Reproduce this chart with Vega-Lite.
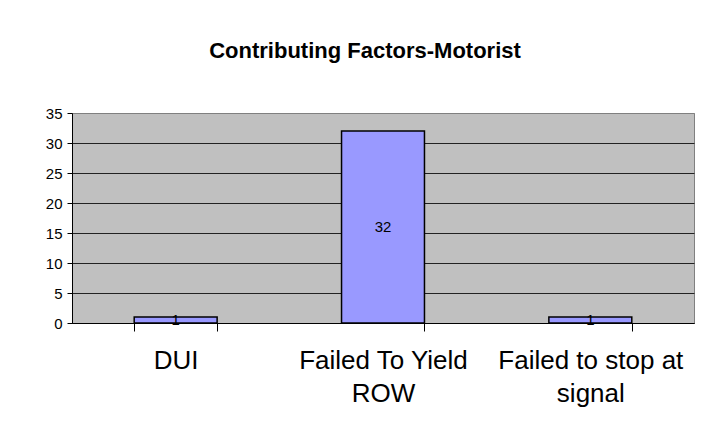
{
  "$schema": "https://vega.github.io/schema/vega-lite/v6.json",
  "width": 622,
  "height": 210,
  "autosize": {"type": "none"},
  "padding": {"left": 72, "top": 113, "right": 22, "bottom": 118},
  "background": "white",
  "title": {
    "text": "Contributing Factors-Motorist",
    "font": "Liberation Sans",
    "fontSize": 22,
    "fontWeight": "bold",
    "color": "black",
    "anchor": "middle",
    "dx": -18,
    "offset": 43
  },
  "data": {
    "values": [
      {"factor": "DUI", "count": 1},
      {"factor": "Failed To Yield ROW", "count": 32},
      {"factor": "Failed to stop at signal", "count": 1}
    ]
  },
  "encoding": {
    "x": {
      "field": "factor",
      "type": "nominal",
      "sort": null,
      "title": null,
      "scale": {"paddingInner": 0.6, "paddingOuter": 0.3},
      "axis": {
        "labelAngle": 0,
        "labelLimit": 0,
        "labelFont": "Liberation Sans",
        "labelFontSize": 26,
        "labelColor": "black",
        "labelLineHeight": 33,
        "labelPadding": 16,
        "labelBaseline": "top",
        "tickBand": "extent",
        "tickSize": 8,
        "tickColor": "black",
        "domainColor": "black",
        "labelExpr": "datum.value == 'Failed To Yield ROW' ? ['Failed To Yield', 'ROW'] : datum.value == 'Failed to stop at signal' ? ['Failed to stop at', 'signal'] : datum.value"
      }
    }
  },
  "layer": [
    {
      "mark": {"type": "bar", "fill": "#9999FF", "stroke": "black", "strokeWidth": 1.5},
      "encoding": {
        "y": {
          "field": "count",
          "type": "quantitative",
          "title": null,
          "scale": {"domain": [0, 35], "nice": false},
          "axis": {
            "values": [0, 5, 10, 15, 20, 25, 30, 35],
            "labelOverlap": false,
            "labelFont": "Liberation Sans",
            "labelFontSize": 15,
            "labelColor": "black",
            "labelPadding": 5,
            "tickSize": 5,
            "tickColor": "black",
            "domainColor": "black",
            "grid": true,
            "gridColor": {"condition": {"test": "datum.value == 35", "value": "#808080"}, "value": "#222222"},
            "gridOpacity": 1
          }
        }
      }
    },
    {
      "transform": [{"calculate": "datum.count / 2", "as": "labelPos"}],
      "mark": {"type": "text", "font": "Liberation Sans", "fontSize": 15, "color": "black", "baseline": "middle"},
      "encoding": {
        "y": {
          "field": "labelPos",
          "type": "quantitative",
          "title": null,
          "axis": {
            "values": [0, 5, 10, 15, 20, 25, 30, 35],
            "labelOverlap": false,
            "labelFont": "Liberation Sans",
            "labelFontSize": 15,
            "labelColor": "black",
            "labelPadding": 5,
            "tickSize": 5,
            "tickColor": "black",
            "domainColor": "black",
            "grid": true,
            "gridColor": {"condition": {"test": "datum.value == 35", "value": "#808080"}, "value": "#222222"},
            "gridOpacity": 1
          }
        },
        "text": {"field": "count", "type": "quantitative"}
      }
    }
  ],
  "config": {
    "view": {"fill": "#C0C0C0", "stroke": "#808080", "strokeWidth": 1}
  }
}
